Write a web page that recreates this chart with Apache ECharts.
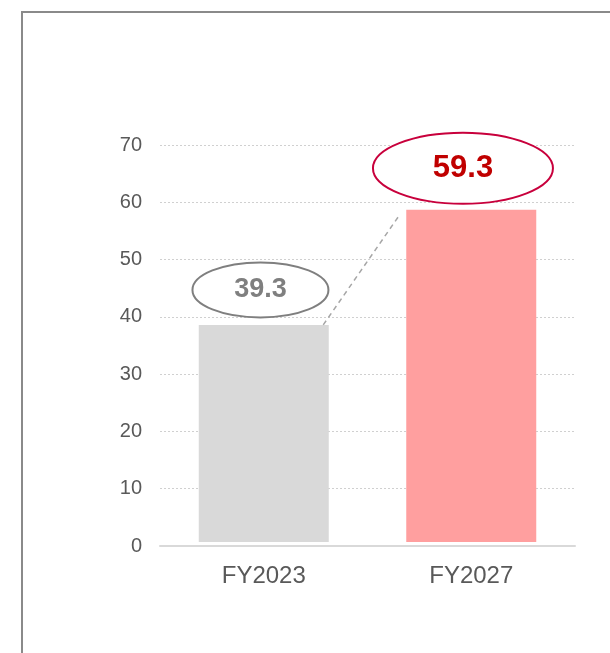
<!DOCTYPE html>
<html>
<head>
<meta charset="utf-8">
<script src="https://cdn.jsdelivr.net/npm/echarts@6/dist/echarts.min.js"></script>
<style>
  html, body { margin: 0; padding: 0; background: #fff; overflow: hidden; }
  #frame {
    position: absolute; left: 21px; top: 11px; width: 700px; height: 700px;
    border-left: 2px solid #8a8a8a; border-top: 2px solid #8a8a8a;
  }
  #chart { position: absolute; left: 0; top: 0; width: 610px; height: 653px; }
</style>
</head>
<body>
<div id="frame"></div>
<div id="chart"></div>
<script>
// data
const categories = ["FY2023", "FY2027"];
const barBase = [0.7, 0.7];          // bars float slightly above the axis
const barValues = [37.9, 58.0];      // visible bar height above the base
const labelTexts = ["39.3", "59.3"];
const yTicks = { min: 0, max: 70, interval: 10 };

const barColors = ["#d9d9d9", "#ff9f9f"];
const bubble = [
  { dx: -3.3, dy: -35, rx: 68, ry: 27.5, stroke: "#7f7f7f", color: "#7f7f7f", size: 27 },
  { dx: -8.3, dy: -41.5, rx: 90, ry: 35.5, stroke: "#c8003c", color: "#c00000", size: 31 },
];
const font = "'Liberation Sans', Arial, sans-serif";

const tops = barBase.map((b, i) => b + barValues[i]);

const chart = echarts.init(document.getElementById("chart"));

chart.setOption({
  animation: false,
  grid: { left: 160, right: 35, top: 145, bottom: 107 },
  xAxis: {
    type: "category",
    data: categories,
    axisLine: { lineStyle: { color: "#d9d9d9", width: 2 } },
    axisTick: { show: false },
    axisLabel: { color: "#595959", fontSize: 24, fontFamily: font, margin: 18 },
  },
  yAxis: {
    type: "value",
    min: yTicks.min,
    max: yTicks.max,
    interval: yTicks.interval,
    axisLine: { show: false },
    axisTick: { show: false },
    axisLabel: { color: "#595959", fontSize: 20, fontFamily: font, margin: 18 },
    splitLine: { lineStyle: { color: "#d0d0d0", type: [2, 2], width: 1 } },
  },
  series: [
    {
      type: "bar",
      stack: "bar",
      data: barBase,
      barWidth: 130,
      itemStyle: { color: "transparent" },
      silent: true,
    },
    {
      type: "bar",
      stack: "bar",
      barWidth: 130,
      data: barValues.map((v, i) => ({ value: v, itemStyle: { color: barColors[i] } })),
    },
    {
      // dashed connector from the first bar top to the second
      type: "custom",
      clip: false,
      z: 5,
      data: [[0, tops[0], 1, tops[1]]],
      encode: { x: 0, y: 1 },
      renderItem: (params, api) => {
        const a = api.coord([api.value(0), api.value(1)]);
        const b = api.coord([api.value(2), api.value(3)]);
        return {
          type: "line",
          shape: { x1: a[0] + 59.5, y1: a[1], x2: b[0] - 71.5, y2: b[1] + 5 },
          style: { stroke: "#a6a6a6", lineWidth: 1.5, lineDash: [5, 4] },
        };
      },
    },
    {
      // value bubbles
      type: "custom",
      clip: false,
      z: 10,
      data: tops.map((t, i) => [i, t]),
      encode: { x: 0, y: 1 },
      renderItem: (params, api) => {
        const i = params.dataIndex;
        const s = bubble[i];
        const p = api.coord([api.value(0), api.value(1)]);
        const cx = p[0] + s.dx;
        const cy = p[1] + s.dy;
        return {
          type: "group",
          children: [
            {
              type: "ellipse",
              shape: { cx, cy, rx: s.rx, ry: s.ry },
              style: { fill: "#fff", stroke: s.stroke, lineWidth: 2 },
            },
            {
              type: "text",
              x: cx,
              y: cy,
              style: {
                text: labelTexts[i],
                fill: s.color,
                font: `bold ${s.size}px ${font}`,
                align: "center",
                verticalAlign: "middle",
              },
            },
          ],
        };
      },
    },
  ],
});
</script>
</body>
</html>
